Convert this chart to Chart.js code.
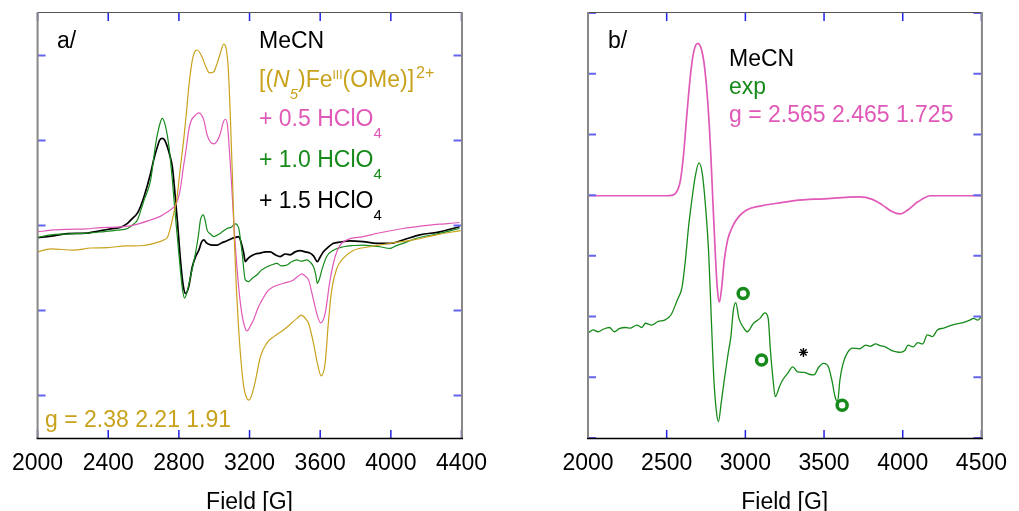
<!DOCTYPE html>
<html>
<head>
<meta charset="utf-8">
<script src="https://cdn.jsdelivr.net/npm/chart.js@4.4.0/dist/chart.umd.min.js"></script>
<style>
html, body { margin: 0; padding: 0; background: #fff; }
#wrap { position: relative; width: 1019px; height: 511px; }
canvas { position: absolute; left: 0; top: 0; }
</style>
</head>
<body>
<div id="wrap">
<canvas id="chartA" width="1019" height="511"></canvas>
<canvas id="chartB" width="1019" height="511"></canvas>
</div>
<script>
// panel a/ : EPR spectra in MeCN (field in G, intensity in arb. units)
const xTicksA = [2000, 2400, 2800, 3200, 3600, 4000, 4400];
const yTicksA = [-4, -2, 0, 2, 4];

const feField = [2000,2076,2200,2302,2400,2499,2601,2669,2714,2736,2753,2770,2787,2810,2827,2843,2856,2876,2889,2904,2932,2951,2973,2996,3017,3035,3054,3069,3080,3092,3105,3114,3126,3137,3148,3167,3182,3195,3210,3232,3261,3299,3336,3392,3440,3470,3492,3515,3534,3562,3584,3605,3628,3646,3665,3694,3731,3787,3882,3994,4126,4258,4395];
const feInt = [-0.62,-0.55,-0.58,-0.53,-0.52,-0.48,-0.47,-0.41,-0.34,-0.27,-0.04,0.27,0.60,1.42,2.01,2.67,3.26,3.89,4.08,4.13,3.96,3.75,3.59,3.61,3.82,4.06,4.27,4.13,3.66,2.48,0.91,-0.34,-1.52,-2.34,-3.00,-3.79,-4.04,-4.11,-4.02,-3.68,-3.09,-2.76,-2.62,-2.46,-2.29,-2.18,-2.11,-2.18,-2.30,-2.77,-3.24,-3.54,-3.24,-2.30,-1.52,-1.01,-0.77,-0.59,-0.50,-0.42,-0.34,-0.22,-0.12];

const h05Field = [2000,2076,2170,2274,2358,2443,2544,2640,2697,2735,2765,2781,2798,2810,2827,2838,2856,2869,2885,2913,2941,2960,2979,2998,3017,3035,3052,3064,3075,3082,3097,3110,3130,3148,3167,3186,3205,3223,3241,3261,3299,3336,3392,3449,3476,3496,3515,3534,3562,3583,3603,3628,3656,3685,3713,3750,3844,3938,4069,4220,4305,4389];
const h05Int = [-0.15,-0.11,-0.09,-0.08,-0.05,-0.04,0.01,0.13,0.22,0.32,0.41,0.48,0.67,0.91,1.42,1.71,2.25,2.46,2.56,2.65,2.48,2.13,1.96,1.92,1.99,2.17,2.44,2.50,2.36,2.01,1.07,0.13,-1.05,-1.82,-2.30,-2.48,-2.36,-2.22,-2.01,-1.83,-1.56,-1.44,-1.36,-1.28,-1.19,-1.14,-1.19,-1.28,-1.75,-2.11,-2.29,-2.07,-1.28,-0.73,-0.46,-0.34,-0.26,-0.17,-0.07,0.01,0.04,0.07];

const h10Field = [2000,2076,2170,2274,2358,2452,2509,2546,2565,2603,2640,2669,2693,2706,2725,2744,2763,2776,2791,2810,2821,2832,2849,2866,2894,2911,2922,2938,2948,2960,2979,2998,3035,3073,3097,3120,3139,3158,3176,3195,3216,3242,3267,3299,3323,3355,3379,3412,3436,3468,3492,3524,3543,3562,3575,3584,3597,3609,3637,3675,3731,3786,3844,3893,3938,3994,4028,4069,4145,4258,4389];
const h10Int = [-0.28,-0.22,-0.20,-0.18,-0.15,-0.11,-0.07,0.04,0.13,0.60,1.07,1.93,2.40,2.52,2.32,1.85,1.07,0.41,-0.26,-1.12,-1.52,-1.71,-1.52,-1.20,-0.65,-0.22,0.13,0.25,0.13,-0.11,-0.20,-0.26,-0.18,-0.07,-0.04,0.04,-0.07,-0.65,-1.28,-1.32,-1.24,-1.16,-1.05,-0.97,-0.93,-0.89,-0.95,-0.93,-0.86,-0.81,-0.84,-0.81,-0.86,-0.97,-1.16,-1.36,-1.24,-1.05,-0.73,-0.58,-0.50,-0.47,-0.46,-0.48,-0.50,-0.54,-0.48,-0.42,-0.30,-0.20,-0.07];

const h15Field = [2000,2076,2170,2274,2358,2415,2471,2509,2533,2565,2584,2603,2640,2657,2678,2691,2706,2719,2735,2748,2763,2776,2791,2810,2824,2838,2855,2876,2894,2913,2928,2941,2956,2969,2990,3017,3041,3073,3097,3120,3139,3148,3167,3176,3188,3205,3233,3261,3289,3317,3346,3374,3402,3430,3458,3487,3515,3543,3563,3584,3600,3618,3645,3675,3712,3769,3844,3919,3994,4069,4164,4277,4389];
const h15Int = [-0.29,-0.25,-0.19,-0.18,-0.12,-0.08,-0.04,0.05,0.15,0.29,0.46,0.68,1.23,1.54,1.85,2.01,2.05,2.01,1.85,1.66,1.38,0.84,0.13,-0.86,-1.40,-1.60,-1.45,-0.97,-0.74,-0.58,-0.39,-0.34,-0.41,-0.44,-0.46,-0.46,-0.41,-0.36,-0.31,-0.28,-0.26,-0.34,-0.65,-0.85,-0.79,-0.73,-0.67,-0.65,-0.62,-0.62,-0.69,-0.73,-0.67,-0.69,-0.62,-0.59,-0.62,-0.65,-0.72,-0.85,-0.74,-0.62,-0.51,-0.42,-0.39,-0.36,-0.38,-0.42,-0.42,-0.34,-0.22,-0.15,-0.03];

// panel b/ : simulation vs experiment
const xTicksB = [2000, 2500, 3000, 3500, 4000, 4500];
const yTicksB = [0, 1, 2, 3, 4, 5, 6, 7];

const simField = [2000,2300,2500,2538,2557,2575,2588,2608,2629,2650,2670,2697,2722,2743,2763,2780,2794,2809,2821,2835,2850,2866,2887,2918,2959,3011,3093,3238,3312,3498,3725,3807,3869,3931,3982,4034,4096,4178,4302,4500];
const simInt = [3.99,3.99,3.99,4.00,4.03,4.12,4.25,4.69,5.35,5.95,6.34,6.50,6.39,6.06,5.46,4.69,3.87,3.04,2.49,2.24,2.49,2.93,3.26,3.48,3.65,3.76,3.82,3.88,3.91,3.94,3.97,3.93,3.84,3.73,3.69,3.76,3.89,3.99,3.99,3.99];

const expField = [2000,2033,2064,2095,2136,2167,2198,2239,2270,2311,2342,2365,2404,2446,2487,2528,2567,2598,2619,2639,2660,2681,2705,2726,2747,2767,2784,2800,2815,2829,2846,2866,2891,2908,2924,2939,2959,2990,3011,3052,3093,3124,3145,3159,3176,3190,3217,3238,3270,3301,3332,3374,3405,3436,3467,3498,3528,3549,3570,3586,3601,3621,3652,3683,3725,3765,3794,3827,3856,3889,3931,3962,3982,4013,4034,4065,4096,4127,4156,4189,4220,4260,4302,4343,4384,4426,4450,4477,4498];
const expInt = [1.73,1.78,1.75,1.79,1.82,1.75,1.80,1.82,1.81,1.86,1.82,1.89,1.86,1.92,1.94,2.03,2.27,2.49,2.93,3.48,3.92,4.30,4.53,4.36,3.81,3.04,1.94,0.96,0.46,0.27,0.57,0.96,1.40,1.67,2.11,2.23,1.97,1.81,1.75,1.89,1.97,2.06,1.97,1.45,0.96,0.68,0.85,0.96,1.07,1.17,1.09,1.08,1.05,1.04,1.17,1.23,1.17,0.96,0.68,0.60,0.96,1.23,1.42,1.48,1.47,1.53,1.51,1.55,1.52,1.50,1.44,1.42,1.41,1.44,1.53,1.50,1.57,1.55,1.70,1.67,1.78,1.81,1.85,1.88,1.90,1.94,1.97,1.94,2.00];

// open circles and the asterisk
const ringField = [2986, 3103, 3615];
const ringInt = [2.38, 1.285, 0.54];
const starField = [3369];
const starInt = [1.41];

const FONT = '"Liberation Sans", Arial, sans-serif';
const GOLD = '#c9a21c';
const PINK = '#e059b8';
const GREEN = '#168a1a';

function pts(xs, ys) {
    return xs.map((x, i) => ({x: x, y: ys[i]}));
}

// text with sub/superscripts, drawn piece by piece
function drawParts(ctx, x, y, color, parts) {
    ctx.fillStyle = color;
    ctx.textBaseline = 'alphabetic';
    ctx.textAlign = 'left';
    let cx = x;
    parts.forEach(p => {
        const size = p.size || 23;
        ctx.font = (p.italic ? 'italic ' : '') + size + 'px ' + FONT;
        cx += p.gap || 0;
        ctx.fillText(p.text, cx, y + (p.dy || 0));
        cx += ctx.measureText(p.text).width;
    });
}

const notesPlugin = {
    id: 'notes',
    afterDraw(chart, args, opts) {
        const ctx = chart.ctx;
        ctx.save();
        (opts.items || []).forEach(it => drawParts(ctx, it.x, it.y, it.color, it.parts));
        ctx.restore();
    }
};

// frame with inward blue tick marks
const framePlugin = {
    id: 'frame',
    afterDraw(chart) {
        const ctx = chart.ctx;
        const a = chart.chartArea;
        const xs = chart.scales.x;
        const ys = chart.scales.y;
        ctx.save();
        ctx.strokeStyle = '#2222e4';
        ctx.lineWidth = 1.5;
        xs.ticks.forEach(t => {
            const px = xs.getPixelForValue(t.value);
            ctx.beginPath();
            ctx.moveTo(px, a.bottom);
            ctx.lineTo(px, a.bottom - 8);
            ctx.moveTo(px, a.top);
            ctx.lineTo(px, a.top + 8);
            ctx.stroke();
        });
        ctx.strokeStyle = '#6464ee';
        ctx.lineWidth = 2;
        ys.ticks.forEach(t => {
            const py = ys.getPixelForValue(t.value);
            ctx.beginPath();
            ctx.moveTo(a.left, py);
            ctx.lineTo(a.left + 8, py);
            ctx.moveTo(a.right, py);
            ctx.lineTo(a.right - 8, py);
            ctx.stroke();
        });
        // border
        ctx.strokeStyle = '#555';
        ctx.lineWidth = 1;
        ctx.beginPath();
        ctx.moveTo(a.left, a.top - 0.5);
        ctx.lineTo(a.right, a.top - 0.5);
        ctx.stroke();
        ctx.strokeStyle = '#888';
        ctx.lineWidth = 2;
        ctx.beginPath();
        ctx.moveTo(a.right + 0.5, a.top - 1);
        ctx.lineTo(a.right + 0.5, a.bottom);
        ctx.moveTo(a.left, a.top - 1);
        ctx.lineTo(a.left, a.bottom);
        ctx.stroke();
        ctx.strokeStyle = '#000';
        ctx.lineWidth = 1.5;
        ctx.beginPath();
        ctx.moveTo(a.left - 1, a.bottom + 0.5);
        ctx.lineTo(a.right + 1.5, a.bottom + 0.5);
        ctx.stroke();
        ctx.restore();
    }
};

function panelOptions(pad, xMin, xMax, xTicks, yMin, yMax, yTicks, notes) {
    return {
        responsive: false,
        animation: false,
        layout: { padding: pad },
        plugins: {
            legend: { display: false },
            tooltip: { enabled: false },
            notes: { items: notes }
        },
        elements: {
            point: { radius: 0 },
            line: { borderWidth: 1.2, cubicInterpolationMode: 'monotone' }
        },
        scales: {
            x: {
                type: 'linear',
                min: xMin,
                max: xMax,
                afterBuildTicks: s => { s.ticks = xTicks.map(v => ({value: v})); },
                afterFit: s => { s.height = 73; },
                grid: { display: false, drawTicks: false },
                border: { display: false },
                ticks: {
                    color: '#000',
                    font: { size: 23, family: FONT },
                    padding: 12,
                    maxRotation: 0,
                    autoSkip: false,
                    callback: v => String(v)
                },
                title: {
                    display: true,
                    text: 'Field [G]',
                    color: '#000',
                    font: { size: 23, family: FONT },
                    padding: { top: 0, bottom: -5 }
                }
            },
            y: {
                type: 'linear',
                min: yMin,
                max: yMax,
                afterBuildTicks: s => { s.ticks = yTicks.map(v => ({value: v})); },
                afterFit: s => { s.width = 0; },
                grid: { display: false, drawTicks: false },
                border: { display: false },
                ticks: { display: false }
            }
        }
    };
}

const notesA = [
    { x: 57, y: 48, color: '#000', parts: [{text: 'a/'}] },
    { x: 259, y: 48, color: '#000', parts: [{text: 'MeCN'}] },
    { x: 259, y: 87, color: GOLD, parts: [
        {text: '[('}, {text: 'N', italic: true}, {text: '5', size: 15, dy: 12, italic: true},
        {text: ')Fe'}, {text: 'III', size: 12, dy: -8}, {text: '(OMe)]'}, {text: '2+', size: 16, dy: -9, gap: 2}
    ] },
    { x: 259, y: 126, color: PINK, parts: [{text: '+ 0.5 HClO'}, {text: '4', size: 15, dy: 12}] },
    { x: 259, y: 167, color: GREEN, parts: [{text: '+ 1.0 HClO'}, {text: '4', size: 15, dy: 12}] },
    { x: 259, y: 208, color: '#000', parts: [{text: '+ 1.5 HClO'}, {text: '4', size: 15, dy: 12}] },
    { x: 45, y: 427, color: GOLD, parts: [{text: 'g = 2.38 2.21 1.91'}] }
];

const notesB = [
    { x: 608, y: 48, color: '#000', parts: [{text: 'b/'}] },
    { x: 729, y: 66, color: '#000', parts: [{text: 'MeCN'}] },
    { x: 729, y: 94, color: GREEN, parts: [{text: 'exp'}] },
    { x: 729, y: 122, color: PINK, parts: [{text: 'g = 2.565 2.465 1.725'}] }
];

new Chart(document.getElementById('chartA'), {
    type: 'line',
    data: {
        datasets: [
            { label: '[(N5)FeIII(OMe)]2+', data: pts(feField, feInt), borderColor: GOLD },
            { label: '+ 0.5 HClO4', data: pts(h05Field, h05Int), borderColor: PINK },
            { label: '+ 1.0 HClO4', data: pts(h10Field, h10Int), borderColor: GREEN },
            { label: '+ 1.5 HClO4', data: pts(h15Field, h15Int), borderColor: '#000', borderWidth: 1.7 }
        ]
    },
    options: panelOptions({ left: 36, right: 557.5, top: 13, bottom: 0 }, 2000, 4400, xTicksA, -5, 5, yTicksA, notesA),
    plugins: [framePlugin, notesPlugin]
});

new Chart(document.getElementById('chartB'), {
    type: 'line',
    data: {
        datasets: [
            { label: 'markers', data: pts(ringField, ringInt), showLine: false, pointRadius: 5,
              pointBorderWidth: 3.5, pointBorderColor: GREEN, pointBackgroundColor: 'rgba(0,0,0,0)' },
            { label: 'star', data: pts(starField, starInt), showLine: false, pointStyle: 'star',
              pointRadius: 4.5, pointBorderWidth: 1.4, pointBorderColor: '#000' },
            { label: 'sim', data: pts(simField, simInt), borderColor: PINK, borderWidth: 1.7 },
            { label: 'exp', data: pts(expField, expInt), borderColor: GREEN, borderWidth: 1.3 }
        ]
    },
    options: panelOptions({ left: 588, right: 27, top: 13, bottom: 0 }, 2000, 4500, xTicksB, 0, 7, yTicksB, notesB),
    plugins: [framePlugin, notesPlugin]
});
</script>
</body>
</html>
